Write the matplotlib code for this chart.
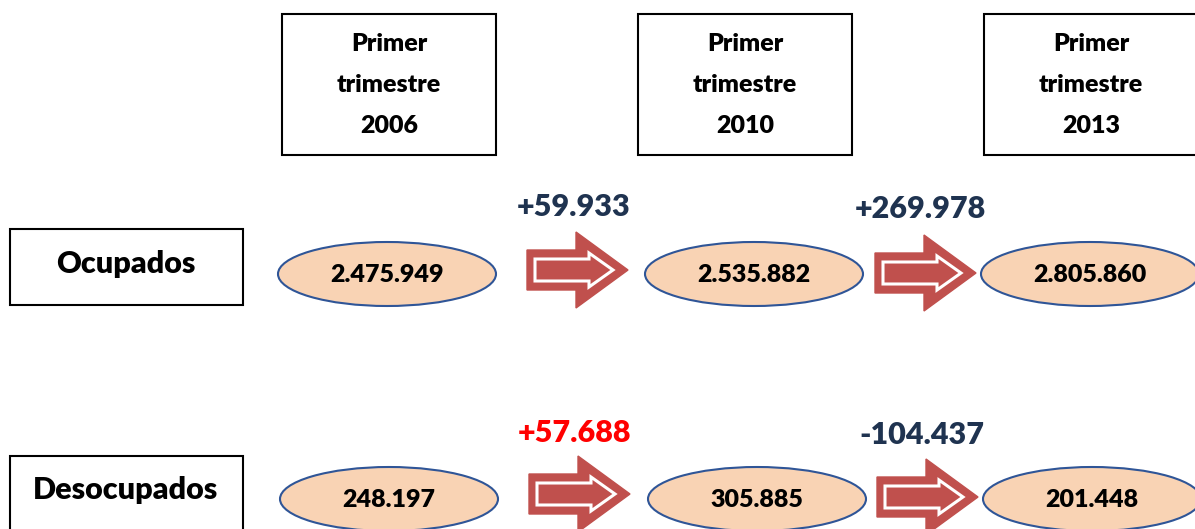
import matplotlib.pyplot as plt
from matplotlib.patches import Rectangle, Ellipse, Polygon

# -----------------------------
# DATA
# -----------------------------
periods = ["2006", "2010", "2013"]
row_labels = ["Ocupados", "Desocupados"]
ocupados = [2475949, 2535882, 2805860]
desocupados = [248197, 305885, 201448]
changes_ocupados = [59933, 269978]
changes_desocupados = [57688, -104437]
change_colors_ocupados = ["#1F3350", "#1F3350"]
change_colors_desocupados = ["#FF0000", "#1F3350"]

FONT = "Lato"
WEIGHT = "heavy"
RED = "#C0504D"
PEACH = "#F9D3B4"
BLUE = "#2F5597"


def fmt(v, sign=False):
    s = f"{abs(v):,}".replace(",", ".")
    if sign:
        s = ("+" if v >= 0 else "-") + s
    return s


def block_arrow(ax, x0, yc):
    # outer arrow
    pts = [(0, -20), (49, -20), (49, -38), (101, 0), (49, 38), (49, 20), (0, 20)]
    ax.add_patch(Polygon([(x0 + px, yc + py) for px, py in pts],
                         closed=True, facecolor=RED, edgecolor=RED, lw=1))
    # inner white outlined arrow
    inner = [(8, -11), (62, -11), (62, -17), (86, 0), (62, 17), (62, 11), (8, 11)]
    ax.add_patch(Polygon([(x0 + px, yc + py) for px, py in inner],
                         closed=True, facecolor=RED, edgecolor="white", lw=2.2))


fig = plt.figure(figsize=(11.95, 5.29), dpi=100)
ax = fig.add_axes([0, 0, 1, 1])
ax.set_xlim(0, 1195)
ax.set_ylim(529, 0)
ax.axis("off")

box_x = [282, 638, 984]

# header boxes
for bx, yr in zip(box_x, periods):
    ax.add_patch(Rectangle((bx, 14), 214, 141, facecolor="white",
                           edgecolor="black", lw=1.5))
    tx = bx + 107
    for ty, t in zip([44, 85, 126], ["Primer", "trimestre", yr]):
        ax.text(tx, ty, t, ha="center", va="center", fontsize=18,
                fontweight=WEIGHT, family=FONT, color="black")

rows_y = [274, 499]
label_y = [264, 490]
arrow_y = [[270, 273], [494, 497]]
change_y = [[207, 209], [433, 435]]
values = [ocupados, desocupados]
changes = [changes_ocupados, changes_desocupados]
change_colors = [change_colors_ocupados, change_colors_desocupados]
arrow_x = [[527, 875], [529, 877]]
change_x = [[574, 920], [575, 922]]
ell_x = [[387, 754, 1090], [389, 757, 1092]]

for r in range(2):
    box_top = 229 if r == 0 else 456
    ax.add_patch(Rectangle((10, box_top), 233, 76, facecolor="white",
                           edgecolor="black", lw=1.5))
    ax.text(126, label_y[r], row_labels[r], ha="center", va="center",
            fontsize=22, fontweight=WEIGHT, family=FONT, color="black")

    for i, v in enumerate(values[r]):
        ax.add_patch(Ellipse((ell_x[r][i], rows_y[r]), 218, 64, facecolor=PEACH,
                             edgecolor=BLUE, lw=1.5))
        ax.text(ell_x[r][i], rows_y[r] + 1, fmt(v), ha="center", va="center",
                fontsize=18, fontweight=WEIGHT, family=FONT, color="black")

    for j, c in enumerate(changes[r]):
        block_arrow(ax, arrow_x[r][j], arrow_y[r][j])
        ax.text(change_x[r][j], change_y[r][j], fmt(c, sign=True), ha="center",
                va="center", fontsize=22, fontweight=WEIGHT, family=FONT,
                color=change_colors[r][j])

fig.savefig("out.png", dpi=100)
